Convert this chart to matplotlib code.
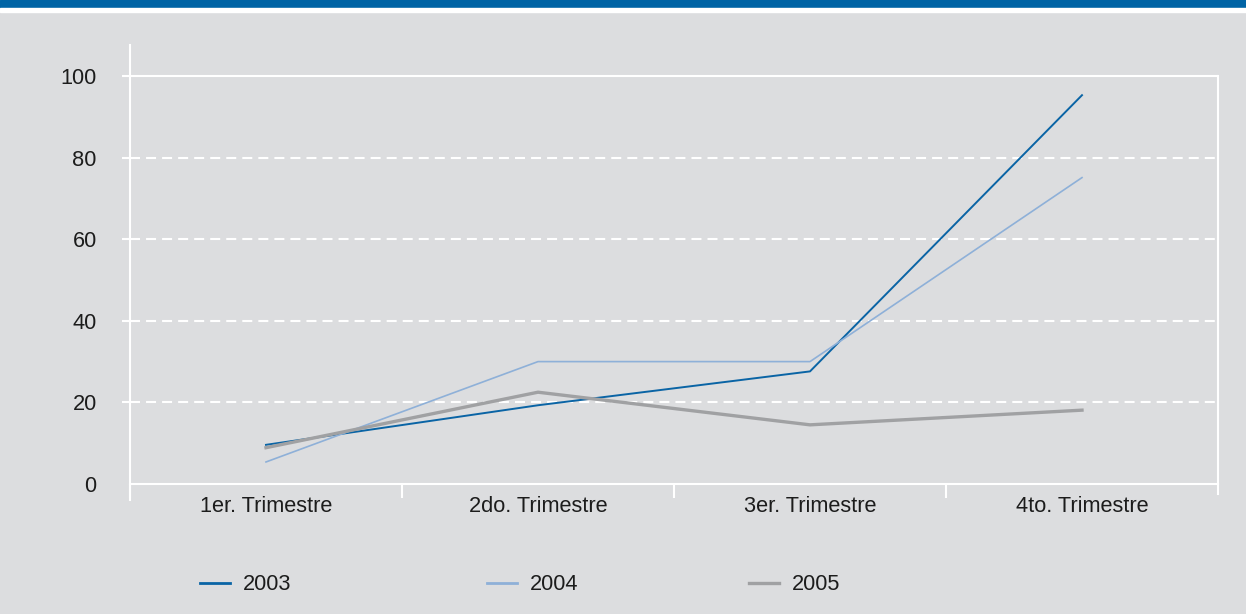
import matplotlib.pyplot as plt
from matplotlib.patches import Rectangle

plt.rcParams['font.family'] = ['Liberation Sans', 'DejaVu Sans']

categories = ['1er. Trimestre', '2do. Trimestre', '3er. Trimestre', '4to. Trimestre']
years = ['2003', '2004', '2005']
values_2003 = [9.6, 19.3, 27.6, 95.3]
values_2004 = [5.4, 30.0, 30.0, 75.1]
values_2005 = [8.9, 22.5, 14.5, 18.1]
yticks = [0, 20, 40, 60, 80, 100]

colors = ['#0a64a5', '#8eb0d8', '#a0a1a3']
widths = [1.4, 1.2, 2.4]
bg = '#dcdddf'
txt = '#1c1c1c'
fs = 15.7

fig = plt.figure(figsize=(12.46, 6.14), dpi=100)
fig.patch.set_facecolor(bg)
# top band
fig.patches.append(Rectangle((0, 1 - 8 / 614), 1, 8 / 614, transform=fig.transFigure,
                             color='#0064a5', zorder=0))
fig.patches.append(Rectangle((0, 1 - 12 / 614), 1, 4 / 614, transform=fig.transFigure,
                             color='white', zorder=0))

ax = fig.add_axes([130 / 1246, 130 / 614, 1088 / 1246, 439 / 614])
ax.set_facecolor(bg)
x = range(len(categories))
series = [values_2003, values_2004, values_2005]

ax.set_xlim(-0.5, 3.5)
ax.set_ylim(0, 107.6)

# grid
for v in yticks[1:-1]:
    ax.axhline(v, color='white', lw=1.5, dashes=(4.8, 2.9), zorder=1)
ax.axhline(100, color='white', lw=1.5, zorder=1)
ax.plot([1, 1], [0, 100 / 107.6], transform=ax.transAxes, color='white', lw=1.5,
        zorder=1, clip_on=False)
ax.plot([1, 1], [0, -10 / 439], transform=ax.transAxes, color='white', lw=1.5,
        clip_on=False)

lines = []
for vals, c, w, lab in zip(series, colors, widths, years):
    ln, = ax.plot(x, vals, color=c, lw=w, label=lab, zorder=3)
    lines.append(ln)

for s in ['top', 'right']:
    ax.spines[s].set_visible(False)
ax.spines['left'].set_color('white')
ax.spines['left'].set_linewidth(1.5)
ax.spines['left'].set_bounds(-16 / 4.08, 107.6)
ax.spines['bottom'].set_color('white')
ax.spines['bottom'].set_linewidth(1.5)

ax.set_yticks(yticks)
ax.set_yticklabels([str(v) for v in yticks], fontsize=fs, color=txt)
ax.tick_params(axis='y', length=6, width=1.5, color='white', pad=18)
ax.yaxis.get_major_ticks()[0].tick1line.set_visible(False)

ax.set_xticks(x)
ax.set_xticklabels(categories, fontsize=fs, color=txt)
ax.tick_params(axis='x', length=0, pad=9)
ax.set_xticks([-0.5, 0.5, 1.5, 2.5], minor=True)
ax.tick_params(axis='x', which='minor', length=10, width=1.5, color='white')

legend_x = [200, 487, 749]
for ln, lx in zip(lines, legend_x):
    leg = fig.legend(handles=[ln], loc='center left', bbox_to_anchor=(lx / 1246, 29 / 614),
                     frameon=False, fontsize=fs, handlelength=1.38, handletextpad=0.58,
                     borderpad=0, borderaxespad=0, labelcolor=txt)
    for h in leg.legend_handles:
        h.set_linewidth(max(ln.get_linewidth(), 2.0))

fig.savefig('out.png', dpi=100, facecolor=bg)
